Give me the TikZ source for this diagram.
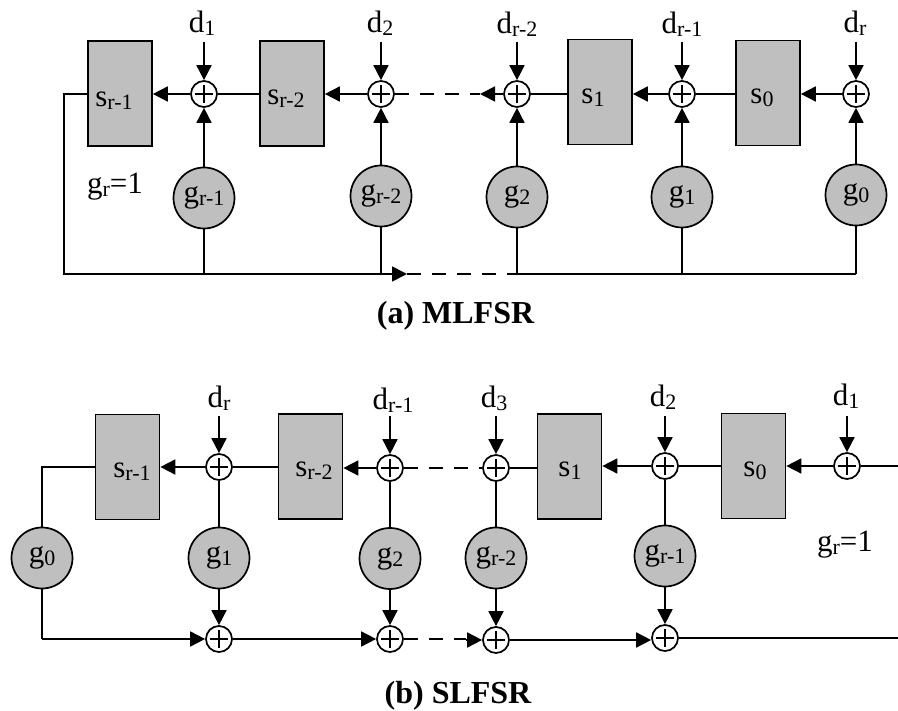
\documentclass[tikz,border=0pt]{standalone}
\usepackage{fontspec}
\setmainfont{Liberation Serif}
\usetikzlibrary{arrows.meta}
\newcommand{\lb}[2]{{\fontsize{31}{33}\selectfont #1\raisebox{-3pt}{\fontsize{22}{24}\selectfont #2}}}
\begin{document}
\begin{tikzpicture}[x=1pt,y=-1pt,line width=1.7pt,
  wire/.style={draw=black},
  arr/.style={draw=black,-{Triangle[length=15pt,width=15pt]}},
  dsh/.style={draw=black,dash pattern=on 14pt off 11pt},
  reg/.style={draw=black,fill=black!25,minimum width=64pt,minimum height=105pt,inner sep=0pt},
  coef/.style={circle,draw=black,fill=black!25,minimum size=61pt,inner sep=0pt},
  txt/.style={inner sep=0pt},
  captxt/.style={inner sep=0pt,font=\fontsize{32}{34}\selectfont\bfseries},
  xorg/.style={circle,draw=black,fill=white,minimum size=26pt,inner sep=0pt,
    path picture={\draw[line width=1.4pt] (path picture bounding box.center) ++(-9pt,0) -- ++(18pt,0)
      (path picture bounding box.center) ++(0,-9pt) -- ++(0,18pt);}}]
\useasboundingbox (0,0) rectangle (898,711);
% ---------- (a) MLFSR
\node[reg] (as3) at (120,93.5) {};
\node[reg] (as2) at (292,93.5) {};
\node[reg] (as1) at (600,92) {};
\node[reg] (as0) at (768,93) {};
\node[txt] (as3t) at (114,101) {\lb{s}{r-1}};
\node[txt] (as2t) at (286,99) {\lb{s}{r-2}};
\node[txt] (as1t) at (593,98) {\lb{s}{1}};
\node[txt] (as0t) at (762,98) {\lb{s}{0}};
\node[xorg] (ax1) at (204,94) {};
\node[xorg] (ax2) at (381,94) {};
\node[xorg] (ax3) at (517,94) {};
\node[xorg] (ax4) at (682,94) {};
\node[xorg] (ax5) at (856,94) {};
\node[coef] (ag1) at (204,198) {\lb{g}{r-1}};
\node[coef] (ag2) at (381,196) {\lb{g}{r-2}};
\node[coef] (ag3) at (517,197) {\lb{g}{2}};
\node[coef] (ag4) at (682,197) {\lb{g}{1}};
\node[coef] (ag5) at (856,195) {\lb{g}{0}};
\node[txt] (ad1) at (202,23) {\lb{d}{1}};
\node[txt] (ad2) at (380,23) {\lb{d}{2}};
\node[txt] (ad3) at (517,24) {\lb{d}{r-2}};
\node[txt] (ad4) at (682,24) {\lb{d}{r-1}};
\node[txt] (ad5) at (855,23) {\lb{d}{r}};
\node[txt] (agr) at (115,187) {\lb{g}{r}\fontsize{31}{33}\selectfont =1};
\node[captxt] (acap) at (455.5,316) {(a) MLFSR};
\foreach \i in {1,...,5}{
  \coordinate (at\i) at (ag\i |- 0,42);
  \draw[arr] (at\i) -- (ax\i.north);
  \draw[arr] (ag\i.north) -- (ax\i.south);
}
\coordinate (abl) at (64,274);
\coordinate (alu) at (64,94);
\coordinate (abm) at (407,274);
\coordinate (ab3) at (ag3 |- abl);
\coordinate (ab5) at (ag5 |- abl);
\coordinate (ab1) at (ag1 |- abl);
\coordinate (ab2) at (ag2 |- abl);
\coordinate (ab4) at (ag4 |- abl);
\draw[wire] (as3.west |- alu) -- (alu) -- (abl) -- (ab1) -- (ab2);
\draw[arr] (ab2) -- (abm);
\draw[dsh] (abm) -- (ab3);
\draw[wire] (ab3) -- (ab5);
\foreach \i in {1,...,5}{ \draw[wire] (ag\i.south) -- (ab\i); }
\draw[arr] (ax1.west) -- (as3.east |- ax1.west);
\draw[wire] (as2.west |- ax1.east) -- (ax1.east);
\draw[arr] (ax2.west) -- (as2.east |- ax2.west);
\coordinate (atm) at (480,94);
\draw[dsh] (ax2.east) -- (atm);
\draw[arr] (ax3.west) -- (atm);
\draw[wire] (as1.west |- ax3.east) -- (ax3.east);
\draw[arr] (ax4.west) -- (as1.east |- ax4.west);
\draw[wire] (as0.west |- ax4.east) -- (ax4.east);
\draw[arr] (ax5.west) -- (as0.east |- ax5.west);
% ---------- (b) SLFSR
\node[reg] (bs3) at (127.5,467) {};
\node[reg] (bs2) at (310.5,466.5) {};
\node[reg] (bs1) at (569.5,466.5) {};
\node[reg] (bs0) at (753.5,466) {};
\node[txt] (bs3t) at (132,472) {\lb{s}{r-1}};
\node[txt] (bs2t) at (314,471) {\lb{s}{r-2}};
\node[txt] (bs1t) at (570,471) {\lb{s}{1}};
\node[txt] (bs0t) at (755,471) {\lb{s}{0}};
\node[xorg] (bx1) at (219,467) {};
\node[xorg] (bx2) at (390,468) {};
\node[xorg] (bx3) at (496,468) {};
\node[xorg] (bx4) at (665,466) {};
\node[xorg] (bx5) at (847,466) {};
\node[coef] (bg0) at (42,558) {\lb{g}{0}};
\node[coef] (bg1) at (219,558) {\lb{g}{1}};
\node[coef] (bg2) at (390,558.5) {\lb{g}{2}};
\node[coef] (bg3) at (496,558) {\lb{g}{r-2}};
\node[coef] (bg4) at (665,556) {\lb{g}{r-1}};
\node[xorg] (by1) at (219,639) {};
\node[xorg] (by2) at (390,639) {};
\node[xorg] (by3) at (496,640) {};
\node[xorg] (by4) at (665,638) {};
\node[txt] (bd1) at (219,398) {\lb{d}{r}};
\node[txt] (bd2) at (393,400) {\lb{d}{r-1}};
\node[txt] (bd3) at (494,398) {\lb{d}{3}};
\node[txt] (bd4) at (663,397) {\lb{d}{2}};
\node[txt] (bd5) at (846,396) {\lb{d}{1}};
\node[txt] (bgr) at (845,545) {\lb{g}{r}\fontsize{31}{33}\selectfont =1};
\node[captxt] (bcap) at (458,696) {(b) SLFSR};
\foreach \i in {1,...,5}{
  \coordinate (bt\i) at (bx\i |- 0,416);
  \draw[arr] (bt\i) -- (bx\i.north);
}
\foreach \i in {1,...,4}{
  \draw[wire] (bx\i.south) -- (bg\i.north);
  \draw[arr] (bg\i.south) -- (by\i.north);
}
\coordinate (blu) at (42,467);
\coordinate (bbl) at (42,639);
\coordinate (bdm) at (466,640);
\coordinate (bre1) at (898,466);
\coordinate (bre2) at (898,638);
\draw[wire] (bs3.west |- blu) -- (blu) -- (bg0.north);
\draw[wire] (bg0.south) -- (bbl);
\draw[arr] (bbl) -- (by1.west);
\draw[arr] (by1.east) -- (by2.west);
\draw[dsh] (by2.east) -- (bdm |- by2.east);
\draw[arr] (bdm) -- (by3.west);
\draw[arr] (by3.east) -- (by4.west |- by3.east);
\draw[wire] (by4.east) -- (bre2);
\draw[arr] (bx1.west) -- (bs3.east |- bx1.west);
\draw[wire] (bs2.west |- bx1.east) -- (bx1.east);
\draw[arr] (bx2.west) -- (bs2.east |- bx2.west);
\draw[dsh] (bx2.east) -- (bx3.west);
\draw[wire] (bs1.west |- bx3.east) -- (bx3.east);
\draw[arr] (bx4.west) -- (bs1.east |- bx4.west);
\draw[wire] (bs0.west |- bx4.east) -- (bx4.east);
\draw[arr] (bx5.west) -- (bs0.east |- bx5.west);
\draw[wire] (bx5.east) -- (bre1);
\end{tikzpicture}
\end{document}
